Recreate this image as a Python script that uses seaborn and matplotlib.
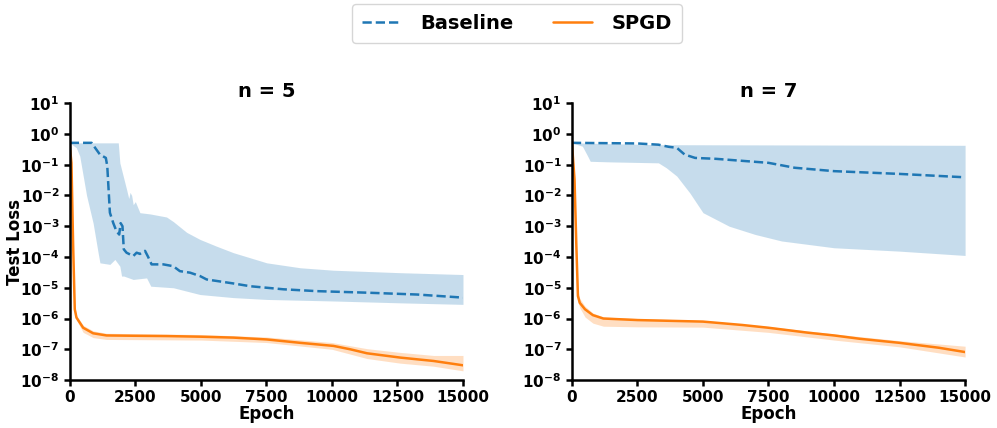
import numpy as np
import pandas as pd
import matplotlib
matplotlib.use("Agg")
import matplotlib.pyplot as plt
import seaborn as sns

# values are log10(test loss)

# n = 5, baseline
n5_base_epoch = [0, 830, 1150, 1375, 1430, 1530, 1660, 1780, 1885, 1940, 2010, 2060, 2165, 2420,
                 2550, 2675, 2870, 2990, 3120, 3570, 3950, 4200, 4590, 4970, 5220, 6240, 6880,
                 8150, 9430, 11340, 13250, 15000]
n5_base_mean = [-0.29, -0.29, -0.67, -0.78, -1.05, -2.56, -2.9, -3.16, -3.27, -2.9, -3.0, -3.75,
                -3.86, -3.97, -3.86, -3.9, -3.8, -4.0, -4.24, -4.24, -4.3, -4.46, -4.51, -4.62,
                -4.73, -4.86, -4.95, -5.05, -5.11, -5.16, -5.22, -5.32]
n5_base_up_epoch = [0, 1850, 1910, 2165, 2250, 2300, 2360, 2420, 2500, 2675, 3060, 3690, 3950,
                    4460, 4970, 5600, 6240, 7515, 8790, 10060, 12600, 15000]
n5_base_up = [-0.29, -0.29, -0.94, -1.8, -2.1, -1.9, -2.0, -2.3, -2.2, -2.56, -2.6, -2.7, -2.85,
              -3.2, -3.43, -3.65, -3.86, -4.19, -4.35, -4.43, -4.51, -4.57]
n5_base_lo_epoch = [0, 250, 380, 640, 890, 1080, 1150, 1530, 1720, 1910, 1975, 2060, 2420, 2930,
                    3090, 3950, 4970, 6240, 7515, 10060, 12600, 15000]
n5_base_lo = [-0.29, -0.45, -0.72, -2.0, -2.9, -3.86, -4.19, -4.24, -4.08, -4.3, -4.62, -4.62,
              -4.73, -4.68, -4.95, -5.0, -5.22, -5.32, -5.38, -5.43, -5.49, -5.54]

# n = 5, SPGD
n5_spgd_epoch = [0, 64, 127, 190, 255, 510, 890, 1400, 2420, 3690, 4970, 6240, 7515, 8790,
                 10060, 10700, 11340, 12610, 13880, 15000]
n5_spgd_mean = [-0.4, -0.94, -3.6, -5.7, -5.97, -6.3, -6.48, -6.55, -6.56, -6.57, -6.59, -6.62,
                -6.68, -6.79, -6.89, -7.0, -7.13, -7.27, -7.38, -7.52]
n5_spgd_band_epoch = [0, 127, 190, 255, 510, 890, 1400, 5000, 7500, 10000, 11340, 12600, 13880, 15000]
n5_spgd_up = [-0.3, -3.4, -5.6, -5.9, -6.22, -6.4, -6.48, -6.52, -6.6, -6.78, -6.98, -7.1, -7.2, -7.2]
n5_spgd_lo = [-0.45, -3.8, -5.8, -6.05, -6.45, -6.62, -6.68, -6.7, -6.78, -7.0, -7.3, -7.45, -7.55, -7.7]

# n = 7, baseline
n7_base_epoch = [0, 2500, 3300, 3700, 4000, 4300, 4700, 5500, 7500, 8500, 10000, 12500, 15000]
n7_base_mean = [-0.29, -0.31, -0.35, -0.42, -0.45, -0.67, -0.78, -0.81, -0.94, -1.1, -1.21, -1.3, -1.41]
n7_base_up_epoch = [0, 3300, 15000]
n7_base_up = [-0.29, -0.35, -0.37]
n7_base_lo_epoch = [0, 400, 600, 700, 1500, 3300, 3600, 4000, 4500, 5000, 5500, 6000, 7000, 8000,
                    9000, 10000, 12500, 15000]
n7_base_lo = [-0.29, -0.4, -0.72, -0.89, -0.91, -0.94, -1.1, -1.37, -1.92, -2.56, -2.78, -3.0,
              -3.27, -3.48, -3.59, -3.7, -3.81, -3.95]

# n = 7, SPGD
n7_spgd_epoch = [0, 100, 170, 230, 300, 500, 800, 1200, 2500, 5000, 6500, 7500, 9000, 10000,
                 11000, 12500, 14000, 15000]
n7_spgd_mean = [-0.29, -1.48, -3.65, -5.27, -5.49, -5.7, -5.89, -6.0, -6.05, -6.1, -6.21, -6.3,
                -6.46, -6.55, -6.66, -6.79, -6.95, -7.09]
n7_spgd_band_epoch = [0, 100, 170, 230, 300, 500, 800, 1200, 2500, 5000, 7500, 10000, 12500, 15000]
n7_spgd_up = [-0.29, -1.3, -3.4, -5.1, -5.35, -5.6, -5.82, -5.95, -6.0, -6.06, -6.26, -6.5, -6.72, -6.9]
n7_spgd_lo = [-0.29, -1.7, -3.9, -5.45, -5.65, -5.95, -6.15, -6.25, -6.27, -6.28, -6.45, -6.7, -6.92, -7.25]

xticks = [0, 2500, 5000, 7500, 10000, 12500, 15000]
blue = "#1f77b4"
orange = "#ff7f0e"


def band(ax, ex_up, up, ex_lo, lo, color):
    # put upper and lower bound on a common grid of their own read points
    grid = np.array(sorted(set(ex_up) | set(ex_lo)))
    u = np.interp(grid, ex_up, up)
    l = np.interp(grid, ex_lo, lo)
    ax.fill_between(grid, 10 ** l, 10 ** u, color=color, alpha=0.25, lw=0)


def panel(ax, title, base, spgd, ylabel):
    b_ep, b_mean, b_upe, b_up, b_loe, b_lo = base
    s_ep, s_mean, s_be, s_up, s_lo = spgd
    band(ax, b_upe, b_up, b_loe, b_lo, blue)
    band(ax, s_be, s_up, s_be, s_lo, orange)
    sns.lineplot(x=b_ep, y=10 ** np.array(b_mean), ax=ax, color=blue, linestyle="--", lw=1.8,
                 label="Baseline")
    sns.lineplot(x=s_ep, y=10 ** np.array(s_mean), ax=ax, color=orange, lw=1.8, label="SPGD")
    ax.set_yscale("log")
    ax.set_ylim(1e-8, 1e1)
    ax.set_yticks([10.0 ** k for k in range(-8, 2)])
    ax.minorticks_off()
    ax.set_xlim(0, 15000)
    ax.set_xticks(xticks)
    ax.set_title(title, fontsize=14, fontweight="bold", pad=4.5)
    ax.set_xlabel("Epoch", fontsize=12, fontweight="bold", labelpad=0)
    ax.set_ylabel(ylabel, fontsize=12, fontweight="bold")
    ax.yaxis.set_label_coords(-0.117, 0.5)
    ax.tick_params(labelsize=11, width=1.8, length=4, colors="black")
    for lab in ax.get_xticklabels() + ax.get_yticklabels():
        lab.set_fontweight("bold")
    for s in ["left", "bottom"]:
        ax.spines[s].set_linewidth(1.8)
        ax.spines[s].set_color("black")
    sns.despine(ax=ax)
    ax.get_legend().remove()


sns.set_style("ticks")
plt.rcParams["font.family"] = ["DejaVu Sans"]
plt.rcParams["font.weight"] = "bold"
plt.rcParams["mathtext.default"] = "bf"
plt.rcParams["text.color"] = "black"
plt.rcParams["axes.labelcolor"] = "black"

fig, axes = plt.subplots(1, 2, figsize=(9.97, 4.28), dpi=100)
fig.subplots_adjust(left=0.070, right=0.968, bottom=0.112, top=0.759, wspace=0.277)

panel(axes[0], "n = 5",
      (n5_base_epoch, n5_base_mean, n5_base_up_epoch, n5_base_up, n5_base_lo_epoch, n5_base_lo),
      (n5_spgd_epoch, n5_spgd_mean, n5_spgd_band_epoch, n5_spgd_up, n5_spgd_lo), "Test Loss")
panel(axes[1], "n = 7",
      (n7_base_epoch, n7_base_mean, n7_base_up_epoch, n7_base_up, n7_base_lo_epoch, n7_base_lo),
      (n7_spgd_epoch, n7_spgd_mean, n7_spgd_band_epoch, n7_spgd_up, n7_spgd_lo), "")

handles, labels = axes[0].get_legend_handles_labels()
fig.legend(handles, labels, loc="upper center", bbox_to_anchor=(0.5185, 1.014), ncol=2,
           frameon=True, prop={"size": 14, "weight": "bold"}, handlelength=2.0,
           handletextpad=1.0, columnspacing=2.0, borderpad=0.52)

fig.savefig("out.png", dpi=100)
